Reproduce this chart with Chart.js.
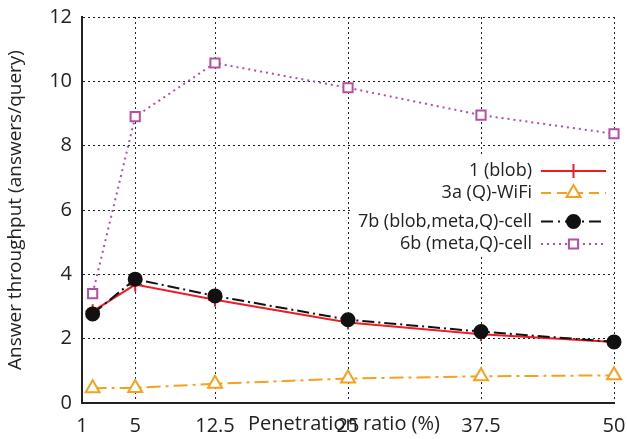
<!DOCTYPE html>
<html>
<head>
<meta charset="utf-8">
<script src="https://cdn.jsdelivr.net/npm/chart.js@4/dist/chart.umd.min.js"></script>
<style>
html,body{margin:0;padding:0;background:#fff;}
#wrap{width:627px;height:439px;}
</style>
</head>
<body>
<div id="wrap"><canvas id="c" width="627" height="439"></canvas></div>
<script>
// ---- data ----
const xValues = [1, 5, 12.5, 25, 37.5, 50];
const xTickValues = [0, 5, 12.5, 25, 37.5, 50];
const xTickLabels = ["1", "5", "12.5", "25", "37.5", "50"];
const seriesNames = ["1 (blob)", "3a (Q)-WiFi", "7b (blob,meta,Q)-cell", "6b (meta,Q)-cell"];
const blob = [2.85, 3.68, 3.21, 2.5, 2.14, 1.9];
const wifi = [0.46, 0.47, 0.6, 0.76, 0.83, 0.86];
const cell7b = [2.77, 3.85, 3.33, 2.59, 2.22, 1.9];
const cell6b = [3.4, 8.9, 10.57, 9.8, 8.95, 8.37];
const xTitle = "Penetration ratio (%)";
const yTitle = "Answer throughput (answers/query)";

const FONT = "'Open Sans', sans-serif";
const pts = arr => arr.map((v, i) => ({x: xValues[i], y: v}));

const styles = [
  {color: '#ee1c25', dash: [], legendDash: [], pointStyle: 'cross', radius: 7, fill: '#ee1c25'},
  {color: '#f7a01b', dash: [14, 5, 3, 5], legendDash: [10, 6], pointStyle: 'triangle', radius: 8, fill: '#fff'},
  {color: '#111111', dash: [12, 4, 2, 4], legendDash: [12, 5, 2, 5], pointStyle: 'circle', radius: 6.5, fill: '#111111'},
  {color: '#b44fa6', dash: [2, 4], legendDash: [2, 4], pointStyle: 'rect', radius: 6.5, fill: '#fff'}
];
const seriesData = [blob, wifi, cell7b, cell6b];

const datasets = seriesData.map((d, i) => ({
  label: seriesNames[i],
  data: pts(d),
  borderColor: styles[i].color,
  borderWidth: 2,
  borderDash: styles[i].dash,
  pointStyle: styles[i].pointStyle,
  pointRadius: styles[i].radius,
  pointBorderColor: styles[i].color,
  pointBackgroundColor: styles[i].fill,
  pointBorderWidth: 2,
  fill: false,
  tension: 0,
  clip: false,
  order: 4 - i
}));

const legendPlugin = {
  id: 'customLegend',
  afterDraw(chart) {
    const ctx = chart.ctx;
    ctx.save();
    ctx.fillStyle = '#fff';
    ctx.fillRect(351, 157, 261, 100);
    const rows = [171, 193, 221.5, 244];
    ctx.font = "18px " + FONT;
    ctx.textAlign = 'right';
    ctx.textBaseline = 'middle';
    seriesNames.forEach((name, i) => {
      const y = rows[i];
      ctx.fillStyle = '#222';
      ctx.fillText(name, 532, y);
      const s = styles[i];
      ctx.strokeStyle = s.color;
      ctx.lineWidth = 2;
      ctx.setLineDash(s.legendDash);
      ctx.beginPath();
      ctx.moveTo(541, y);
      ctx.lineTo(606, y);
      ctx.stroke();
      ctx.setLineDash([]);
      ctx.fillStyle = s.fill;
      ctx.strokeStyle = s.color;
      ctx.lineWidth = 2;
      Chart.helpers.drawPoint(ctx, {
        pointStyle: s.pointStyle, radius: s.radius, borderWidth: 2
      }, 573.5, y);
    });
    // x axis title (sits on the tick-label row)
    const area = chart.chartArea;
    ctx.font = "20px " + FONT;
    ctx.textAlign = 'center';
    ctx.textBaseline = 'middle';
    ctx.fillStyle = '#222';
    ctx.fillText(xTitle, (area.left + area.right) / 2 - 4, 424);
    ctx.restore();
  }
};

new Chart(document.getElementById('c'), {
  type: 'line',
  data: {datasets},
  plugins: [legendPlugin],
  options: {
    responsive: false,
    animation: false,
    devicePixelRatio: 1,
    layout: {autoPadding: false, padding: {left: 0, right: 13, top: 17, bottom: 0}},
    plugins: {legend: {display: false}, tooltip: {enabled: false}},
    scales: {
      x: {
        type: 'linear',
        min: 0, max: 50,
        afterBuildTicks: (scale) => { scale.ticks = xTickValues.map(v => ({value: v})); },
        afterFit: (scale) => { scale.height = 36; scale.paddingLeft = 0; scale.paddingRight = 0; },
        ticks: {
          autoSkip: false, maxRotation: 0,
          font: {family: FONT, size: 20},
          color: '#222',
          padding: 11,
          callback: (v) => { const k = xTickValues.indexOf(v); return k >= 0 ? xTickLabels[k] : ''; }
        },
        grid: {color: '#222', lineWidth: 1, drawTicks: false},
        border: {display: true, color: '#222', width: 2, dash: [2, 3]}
      },
      y: {
        min: 0, max: 12,
        afterFit: (scale) => { scale.width = 82; scale.paddingTop = 0; scale.paddingBottom = 0; },
        ticks: {stepSize: 2, font: {family: FONT, size: 20}, color: '#222', padding: 10},
        grid: {color: '#222', lineWidth: 1, drawTicks: false},
        border: {display: true, color: '#222', width: 2, dash: [2, 3]},
        title: {display: true, text: yTitle, font: {family: FONT, size: 19}, color: '#222', padding: {top: 4, bottom: 0}}
      }
    },
    elements: {line: {borderCapStyle: 'butt'}}
  }
});
</script>
</body>
</html>
